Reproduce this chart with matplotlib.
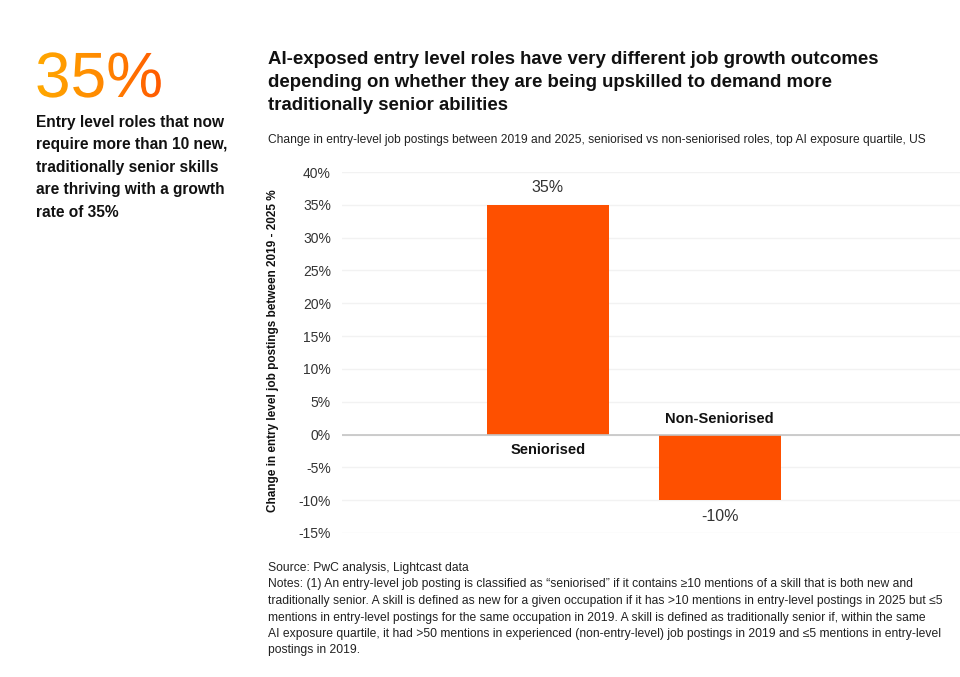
import numpy as np
import matplotlib.pyplot as plt
from matplotlib.ticker import FuncFormatter
from matplotlib.textpath import TextPath
from matplotlib.patches import PathPatch
from matplotlib.font_manager import FontProperties
from matplotlib.transforms import Affine2D
from matplotlib.colors import LinearSegmentedColormap

plt.rcParams['font.family'] = ['Liberation Sans', 'DejaVu Sans']

# data
categories = ["Seniorised", "Non-Seniorised"]
growth = [35, -10]
yticks = [-15, -10, -5, 0, 5, 10, 15, 20, 25, 30, 35, 40]
headline = "35%"

ORANGE = '#FE5000'
W, H = 960, 677

fig = plt.figure(figsize=(9.6, 6.77), dpi=100)
fig.patch.set_facecolor('white')

def px(x, y):
    return x / W, 1 - y / H

# axes in pixel coords: left 342, right 960, top 172, bottom 533
ax = fig.add_axes([342 / W, 1 - 533 / H, (960 - 342) / W, (533 - 172) / H])
xs = list(range(len(categories)))
ax.bar(xs, growth, width=0.71, color=ORANGE, zorder=3)
ax.set_xlim(-1.2, 2.4)
ax.set_ylim(-15, 40)
ax.set_yticks(yticks)
ax.yaxis.set_major_formatter(FuncFormatter(lambda v, p: f"{v:.0f}%"))
ax.tick_params(axis='y', length=0, pad=8, labelsize=10, labelcolor='#333333')
ax.set_xticks([])
for s in ax.spines.values():
    s.set_visible(False)
ax.grid(axis='y', color='#F2F2F2', linewidth=1, zorder=0)
ax.axhline(0, color='#C4C4C4', linewidth=1.2, zorder=4)

for x, v, name in zip(xs, growth, categories):
    if v >= 0:
        ax.annotate(f"{v:.0f}%", (x, v), xytext=(0, 7), textcoords='offset points',
                    ha='center', va='bottom', fontsize=11.5, color='#333333')
        ax.annotate(name, (x, 0), xytext=(0, -6), textcoords='offset points',
                    ha='center', va='top', fontsize=10.5, fontweight='bold', color='#111111')
    else:
        ax.annotate(f"{v:.0f}%", (x, v), xytext=(0, -6), textcoords='offset points',
                    ha='center', va='top', fontsize=11.5, color='#333333')
        ax.annotate(name, (x, 0), xytext=(0, 6), textcoords='offset points',
                    ha='center', va='bottom', fontsize=10.5, fontweight='bold', color='#111111')

fig.text(*px(273, 351), "Change in entry level job postings between 2019 - 2025 %",
         rotation=90, ha='center', va='center', fontsize=8.5, fontweight='bold', color='#111111')

# left highlight: big number with orange gradient (text path used as clip)
ov = fig.add_axes([0, 0, 1, 1], zorder=-1)
ov.set_xlim(0, W)
ov.set_ylim(H, 0)
ov.axis('off')
tp = TextPath((0, 0), headline, size=64, prop=FontProperties(family='Liberation Sans'))
tp = Affine2D().scale(1, -1).translate(35, 97).transform_path(tp)
ext = tp.get_extents()
grad = LinearSegmentedColormap.from_list('hl', ['#FFA800', '#FF8A00', '#FF5A00'])
img = ov.imshow(np.linspace(0, 1, 200)[None, :], cmap=grad, aspect='auto',
                extent=[ext.x0, ext.x1, ext.y1, ext.y0])
img.set_clip_path(PathPatch(tp, transform=ov.transData, facecolor='none', edgecolor='none'))

fig.text(*px(36, 115), "Entry level roles that now\nrequire more than 10 new,\ntraditionally senior skills\n"
         "are thriving with a growth\nrate of 35%",
         fontsize=11.2, fontweight='bold', color='#111111', ha='left', va='top', linespacing=1.62)

# title block
fig.text(*px(268, 51), "AI-exposed entry level roles have very different job growth outcomes\n"
         "depending on whether they are being upskilled to demand more\n"
         "traditionally senior abilities",
         fontsize=13.4, fontweight='bold', color='#111111', ha='left', va='top', linespacing=1.45)
fig.text(*px(268, 140), "Change in entry-level job postings between 2019 and 2025, seniorised vs "
         "non-seniorised roles, top AI exposure quartile, US",
         fontsize=8.63, color='#222222', ha='left', va='center')

fig.text(*px(268, 562), "Source: PwC analysis, Lightcast data\n"
         "Notes: (1) An entry-level job posting is classified as \u201cseniorised\u201d if it contains \u226510 mentions of a skill that is both new and\n"
         "traditionally senior. A skill is defined as new for a given occupation if it has >10 mentions in entry-level postings in 2025 but \u22645\n"
         "mentions in entry-level postings for the same occupation in 2019. A skill is defined as traditionally senior if, within the same\n"
         "AI exposure quartile, it had >50 mentions in experienced (non-entry-level) job postings in 2019 and \u22645 mentions in entry-level\n"
         "postings in 2019.",
         fontsize=8.7, color='#222222', ha='left', va='top', linespacing=1.5)

fig.savefig('out.png', dpi=100, facecolor='white')
